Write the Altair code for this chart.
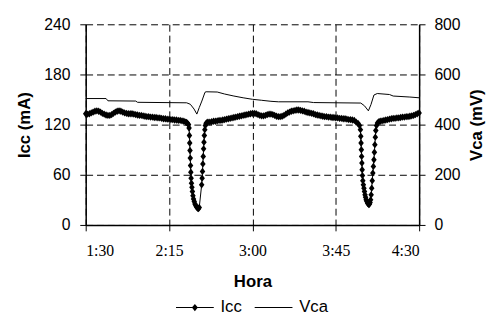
import altair as alt
import pandas as pd

# ---- data (time = minutes after 1:30) ----
icc_t_a = list(range(0, 54))
icc_v_a = [133, 132.5, 133, 134, 135, 136, 136.5, 136, 135, 133.5,
           132.5, 131.5, 131, 131, 132, 133.5, 135, 136, 136.5, 136,
           135, 134, 133.5, 133, 133, 133, 132.5, 132, 131.5, 131,
           131, 130.5, 130, 129.5, 129.5, 129, 129, 128.5, 128.5, 128,
           128, 127.5, 127, 127, 126.5, 126.5, 126, 126, 125.5, 125.5,
           125, 125, 124.5, 124]
icc_t_dip1 = [54, 54.5, 55, 55.5, 55.8, 56.0, 56.15, 56.3, 56.45, 56.6,
              56.75, 56.9, 57.1, 57.35, 57.6, 57.9, 58.2, 58.6, 59.0, 59.5,
              60.0, 60.5, 60.9, 61.3, 62.6, 62.85, 63.05, 63.25, 63.45, 63.65,
              63.85, 64.05, 64.3, 64.6, 65.0, 65.5, 66]
icc_v_dip1 = [123, 122.5, 121.5, 120, 116, 107, 98, 89, 80, 71,
              63, 56, 50, 45, 40, 35, 31, 28, 25, 23,
              21, 20, 19.5, 21, 48, 56, 64, 73, 82, 91,
              99, 107, 114, 119, 121.5, 122.5, 123]
icc_t_c = list(range(67, 145))
icc_v_c = [123, 123.5, 124, 124, 124.5, 125, 125, 125.5, 126, 126.5,
           127, 127.5, 128, 128.5, 129, 129.5, 130, 130.5, 131, 131.5,
           132, 132.5, 133, 133.5, 133.5, 133, 132, 131, 130.5, 130.5,
           131, 132, 132.5, 132.5, 132, 131, 130, 129.5, 129.5, 130,
           131, 132.5, 134, 135, 136, 136.5, 137, 137.5, 137.5, 137,
           136.5, 136, 135, 134.5, 134, 133.5, 133, 132, 131.5, 131,
           130.5, 130, 129.5, 129.5, 129, 129, 128.5, 128.5, 128, 128,
           127.5, 127.5, 127, 127, 126.5, 126, 126, 125.5]
icc_t_dip2 = [145, 146, 147, 147.8, 148.3, 148.5, 148.65, 148.8, 148.95, 149.1,
              149.25, 149.4, 149.6, 149.9, 150.2, 150.5, 150.8, 151.1, 151.4, 151.8,
              152.2, 152.6, 152.9, 153.2, 153.5, 153.8, 154.1, 154.4, 154.7, 155.0,
              155.3, 155.6, 155.85, 156.1, 156.35, 156.6, 157, 157.5, 158.3]
icc_v_dip2 = [125, 123, 121.5, 119, 114, 106, 98, 90, 82, 74,
              66, 59, 53, 48, 44, 40, 36, 33, 30, 28,
              26, 25, 24.5, 25, 27, 30, 36, 44, 53, 62,
              70, 78, 87, 96, 105, 113, 119, 122, 123.5]
icc_t_e = list(range(159, 181))
icc_v_e = [124, 124.5, 125, 125.5, 126, 126.5, 127, 127.5, 127.5, 128,
           128, 128.5, 129, 129, 129.5, 129.5, 130, 130.5, 131, 132,
           133, 134]

vca_t = [0, 11, 12, 27, 28, 54.5, 56.5, 58.5, 60, 61.3, 62.7, 64.4, 65,
         71, 75, 80, 85, 90, 95, 100, 104, 120, 123,
         148.5, 150.5, 152.6, 154, 155.6, 157.4, 164, 166, 175, 180]
vca_v = [504, 504, 495, 494, 489, 487, 481, 462, 442, 468, 494, 529, 531,
         530, 522, 514, 507, 501, 497, 493, 491, 491, 488,
         486, 475, 455, 480, 518, 524, 520, 514, 510, 507]

x_ticks = [0, 45, 90, 135, 180]
icc_ticks = [0, 60, 120, 180, 240]
vca_ticks = [0, 200, 400, 600, 800]
series = ["Icc", "Vca"]

icc_t = icc_t_a + icc_t_dip1 + icc_t_c + icc_t_dip2 + icc_t_e
icc_v = icc_v_a + icc_v_dip1 + icc_v_c + icc_v_dip2 + icc_v_e

icc_df = pd.DataFrame({"t": icc_t, "v": icc_v})
vca_df = pd.DataFrame({"t": vca_t, "v": vca_v})
leg_df = pd.DataFrame({"serie": series})

diamond = "M0,-1L0.75,0L0,1L-0.75,0Z"
# legend symbols: a thin filled bar (the line) plus, for Icc, the diamond marker
legend_paths = [
    "M-1,-0.028L1,-0.028L1,0.028L-1,0.028Z M0,-0.19L0.16,0L0,0.19L-0.16,0Z",
    "M-1,-0.028L1,-0.028L1,0.028L-1,0.028Z",
]

SANS = "Liberation Sans"
SERIF = "Liberation Serif"

x_enc = alt.X(
    "t:Q",
    scale=alt.Scale(domain=[0, 180], nice=False, zero=False),
    axis=alt.Axis(
        values=x_ticks,
        labelExpr="floor((datum.value+90)/60) + ':' + (((datum.value+90)%60) < 10 ? '0' : '') + ((datum.value+90)%60)",
        title="Hora", grid=True, gridDash=[7, 4], gridColor="black", gridWidth=1,
        labelFont=SERIF, labelFontSize=16, labelColor="black",
        tickSize=6, tickColor="black", labelPadding=12.5,
        domainColor="black", domainWidth=1.5,
        titleFont=SANS, titleFontSize=17, titleFontWeight="bold", titleColor="black",
        titleX=169.5, titleY=62.3, titleBaseline="alphabetic", titleAlign="center",
    ),
)

y_icc = alt.Y(
    "v:Q",
    scale=alt.Scale(domain=[0, 240], nice=False),
    axis=alt.Axis(
        values=icc_ticks, orient="left", title="Icc (mA)",
        grid=True, gridDash=[7, 4], gridColor="black", gridWidth=1,
        labelFont=SANS, labelFontSize=16, labelColor="black",
        tickSize=6, tickColor="black", labelPadding=10,
        domainColor="black", domainWidth=1.5,
        titleFont=SANS, titleFontSize=17, titleFontWeight="bold", titleColor="black",
        titleAngle=270, titleX=-57.5, titleY=102, titleAlign="center", titleBaseline="alphabetic",
    ),
)

y_vca = alt.Y(
    "v:Q",
    scale=alt.Scale(domain=[0, 800], nice=False),
    axis=alt.Axis(
        values=vca_ticks, orient="right", title="Vca (mV)", grid=False,
        labelFont=SANS, labelFontSize=16, labelColor="black",
        tickSize=6, tickColor="black", labelPadding=9,
        domainColor="black", domainWidth=1.5,
        titleFont=SANS, titleFontSize=17, titleFontWeight="bold", titleColor="black",
        titleAngle=270, titleX=63, titleY=102, titleAlign="center", titleBaseline="alphabetic",
    ),
)

icc_line = alt.Chart(icc_df).mark_line(color="black", strokeWidth=1).encode(
    x=x_enc, y=y_icc, order="t:Q")
icc_pts = alt.Chart(icc_df).mark_point(
    shape=diamond, filled=True, color="black", size=56, opacity=1).encode(x=x_enc, y=y_icc)

leg_pts = alt.Chart(leg_df).mark_point(
    filled=True, fill="black", opacity=0
).encode(
    x=alt.value(0), y=alt.value(0),
    shape=alt.Shape(
        "serie:N",
        scale=alt.Scale(domain=series, range=legend_paths),
        legend=alt.Legend(
            title=None, orient="none", legendX=91, legendY=268, direction="horizontal",
            symbolSize=1475, symbolFillColor="black", symbolOpacity=1,
            labelFont=SANS, labelFontSize=17, labelColor="black",
            labelOffset=6, columnPadding=9,
        ),
    ),
)

vca_line = alt.Chart(vca_df).mark_line(color="black", strokeWidth=1).encode(
    x=x_enc, y=y_vca, order="t:Q")

chart = alt.layer(
    alt.layer(icc_line, icc_pts, leg_pts),
    vca_line,
).resolve_scale(y="independent").properties(
    width=339, height=204,
    autosize=alt.AutoSizeParams(type="none"),
    padding={"left": 79, "top": 14, "right": 69, "bottom": 90},
).configure_view(strokeWidth=0)

chart.save("out.html", embed_options={"renderer": "svg", "actions": False})
